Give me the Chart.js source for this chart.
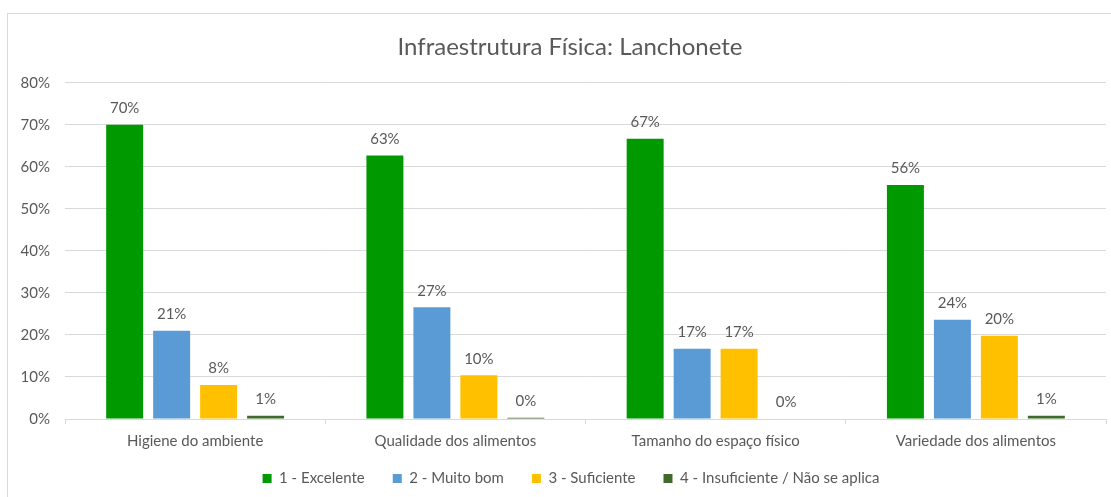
<!DOCTYPE html>
<html>
<head>
<meta charset="utf-8">
<script src="https://cdn.jsdelivr.net/npm/chart.js@4"></script>
<style>
  html, body { margin: 0; padding: 0; background: #fff; overflow: hidden; }
  #frame { position: absolute; left: 7px; top: 13px; width: 1124px; height: 490px; border: 1px solid #d9d9d9; background: #fff; }
</style>
</head>
<body>
<div id="frame"><canvas id="myChart" width="1124" height="490"></canvas></div>
<script>
// values (percent)
const categories = ['Higiene do ambiente', 'Qualidade dos alimentos', 'Tamanho do espaço físico', 'Variedade dos alimentos'];
const excelente = [70, 62.7, 66.7, 55.7];
const muitoBom = [21, 26.6, 16.7, 23.6];
const suficiente = [8.1, 10.4, 16.7, 19.8];
const insuficiente = [0.8, 0.3, 0, 0.8];
const seriesNames = ['1 - Excelente', '2 - Muito bom', '3 - Suficiente', '4 - Insuficiente / Não se aplica'];
const barColors = ['#009900', '#5b9bd5', '#ffc000', '#3e6b2b'];

const textColor = '#595959';
const fontName = 'Lato';

// labels above every bar, like Excel's data labels
const barLabels = {
  id: 'barLabels',
  afterDatasetsDraw(chart) {
    const ctx = chart.ctx;
    ctx.save();
    ctx.font = '15px ' + fontName;
    ctx.fillStyle = textColor;
    ctx.textAlign = 'center';
    ctx.textBaseline = 'bottom';
    chart.data.datasets.forEach(function (ds, i) {
      chart.getDatasetMeta(i).data.forEach(function (bar, j) {
        ctx.fillText(Math.round(ds.data[j]) + '%', bar.x, bar.y - 9);
      });
    });
    ctx.restore();
  }
};

// move title and legend a little, Excel centres them on the whole frame
function shiftBox(box, dx, dy) {
  if (!box) return;
  box.left += dx; box.right += dx;
  box.top += dy; box.bottom += dy;
}
const nudge = {
  id: 'nudge',
  afterLayout(chart) {
    shiftBox(chart.titleBlock, 13, 0);
    shiftBox(chart.legend, 14, -8);
  }
};

new Chart(document.getElementById('myChart'), {
  type: 'bar',
  data: {
    labels: categories,
    datasets: [excelente, muitoBom, suficiente, insuficiente].map(function (vals, i) {
      return {
        label: seriesNames[i],
        data: vals,
        backgroundColor: barColors[i],
        categoryPercentage: 0.722,
        barPercentage: 0.787
      };
    })
  },
  options: {
    responsive: false,
    animation: false,
    layout: { padding: { left: 0, right: 26, top: 0, bottom: 0 } },
    plugins: {
      title: {
        display: true,
        text: 'Infraestrutura Física: Lanchonete',
        color: textColor,
        font: { family: fontName, size: 24, weight: 'normal' },
        padding: { top: 19, bottom: 21 }
      },
      legend: {
        position: 'bottom',
        labels: {
          color: textColor,
          font: { family: fontName, size: 15 },
          boxWidth: 9,
          boxHeight: 9,
          padding: 28
        }
      },
      tooltip: { enabled: false }
    },
    scales: {
      x: {
        afterFit: function (scale) { scale.height = 32; },
        grid: { display: true, drawOnChartArea: false, drawTicks: true, tickLength: 5, color: '#d9d9d9' },
        border: { color: '#d9d9d9' },
        ticks: { color: textColor, font: { family: fontName, size: 15 }, padding: 8 }
      },
      y: {
        min: 0,
        max: 80,
        afterFit: function (scale) { scale.width = 57; },
        grid: { color: '#d9d9d9', drawTicks: false },
        border: { display: false },
        ticks: {
          stepSize: 10,
          padding: 15,
          color: textColor,
          font: { family: fontName, size: 15 },
          callback: function (v) { return v + '%'; }
        }
      }
    }
  },
  plugins: [barLabels, nudge]
});
</script>
</body>
</html>
